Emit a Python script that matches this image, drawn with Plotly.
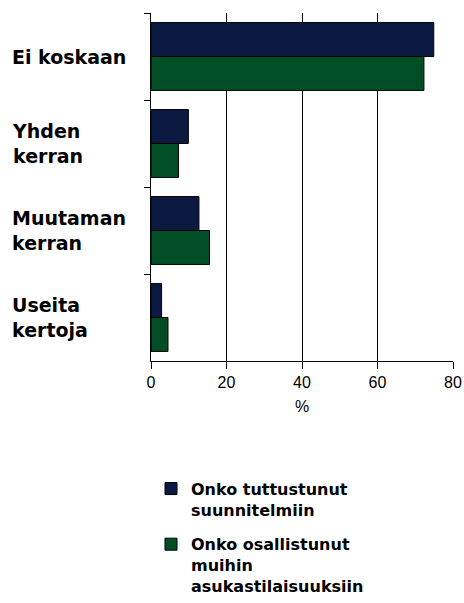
import plotly.graph_objects as go

categories = ["Ei koskaan", "Yhden kerran", "Muutaman kerran", "Useita kertoja"]
category_labels = ["Ei koskaan", "Yhden<br>kerran", "Muutaman<br>kerran", "Useita<br>kertoja"]
series_names = ["Onko tuttustunut<br>suunnitelmiin", "Onko osallistunut<br>muihin<br>asukastilaisuuksiin"]
tutustunut = [74.9, 9.9, 12.7, 2.8]
osallistunut = [72.3, 7.3, 15.5, 4.5]
x_ticks = [0, 20, 40, 60, 80]
colors = ["#0C1A42", "#004D26"]

fig = go.Figure()
for i, (name, vals, col) in enumerate(zip(series_names, [tutustunut, osallistunut], colors)):
    fig.add_trace(go.Bar(
        y=categories, x=vals, name=name, orientation="h", legendgroup=f"g{i}",
        marker=dict(color=col, line=dict(color="black", width=1)),
    ))

for cat, lab in zip(categories, category_labels):
    fig.add_annotation(
        x=-0.467, xref="paper", y=cat, yref="y", text=lab, showarrow=False,
        xanchor="left", align="left",
        font=dict(family="DejaVu Sans", size=19, color="black", weight="bold"),
    )

fig.update_layout(
    width=464, height=603,
    margin=dict(l=151, r=11, t=13, b=242, autoexpand=False),
    plot_bgcolor="white", paper_bgcolor="white",
    barmode="group", bargap=0.22, bargroupgap=0,
    showlegend=True,
    legend=dict(
        x=0.0, y=-0.318, xanchor="left", yanchor="top",
        traceorder="grouped", tracegroupgap=11, valign="top",
        font=dict(family="DejaVu Sans", size=16, color="black", weight="bold"),
    ),
    xaxis=dict(
        range=[0, 80], tickvals=x_ticks, ticks="outside", ticklen=7, tickcolor="black",
        showline=True, linecolor="black", linewidth=1, automargin=False,
        showgrid=True, gridcolor="black", gridwidth=1, zeroline=False,
        tickfont=dict(family="Liberation Sans, Arial", size=16, color="black"),
        title=dict(text="%", font=dict(family="Liberation Sans, Arial", size=16, color="black"), standoff=10),
    ),
    yaxis=dict(
        autorange="reversed", showticklabels=False, ticks="outside", ticklen=6,
        tickcolor="black", tickson="boundaries", automargin=False,
        showline=True, linecolor="black", linewidth=1, showgrid=False,
    ),
)

fig.write_html(
    "out.html",
    config={"displayModeBar": False},
    post_script="document.body.style.margin='0';document.body.style.overflow='hidden';",
)
